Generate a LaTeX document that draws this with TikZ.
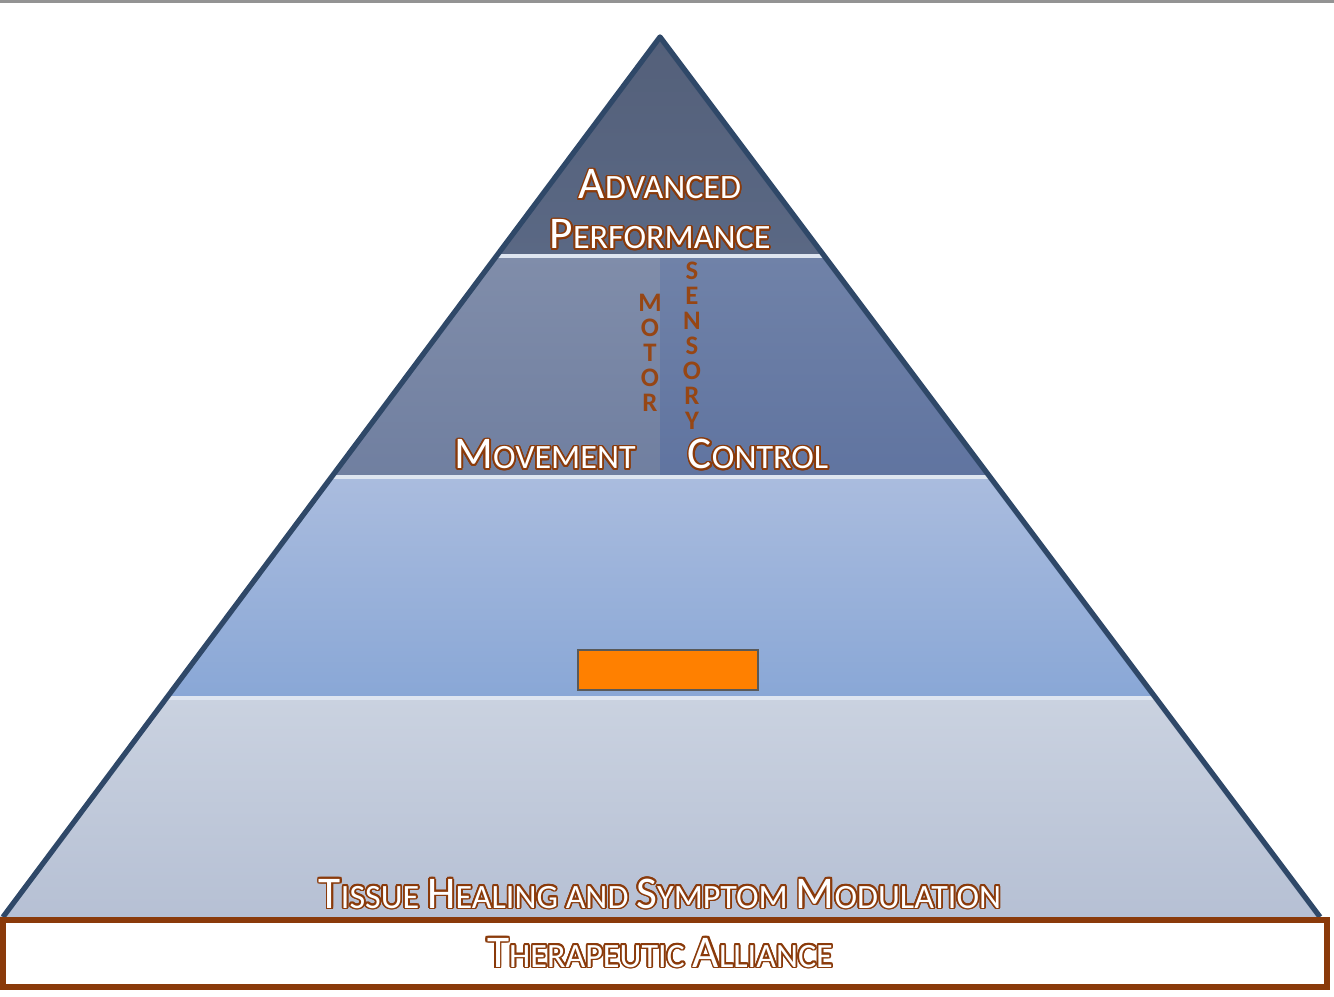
\documentclass[tikz,border=0pt]{standalone}
\usepackage{fontspec}
\setmainfont{Carlito}
\usepackage{xcolor}
\usepackage{tikz}
\usepackage{contour}
\usetikzlibrary{positioning,calc}
\definecolor{pyrline}{RGB}{47,72,104}
\definecolor{apexfill}{RGB}{84,96,122}
\definecolor{apexfillb}{RGB}{90,104,132}
\definecolor{motorfill}{RGB}{128,141,170}
\definecolor{motorfillb}{RGB}{112,127,160}
\definecolor{sensfill}{RGB}{112,130,168}
\definecolor{sensfillb}{RGB}{96,116,160}
\definecolor{strongfill}{RGB}{170,188,222}
\definecolor{strongfillb}{RGB}{137,167,214}
\definecolor{tissuefill}{RGB}{202,210,224}
\definecolor{tissuefillb}{RGB}{182,192,212}
\definecolor{bandsep}{RGB}{222,229,240}
\definecolor{rust}{RGB}{138,58,10}
\definecolor{letterrust}{RGB}{150,70,20}
\definecolor{hideorange}{RGB}{255,128,0}
\contourlength{0.5pt}
\newcommand{\tierword}[2]{{\fontsize{12.9}{16}\selectfont #1}{\fontsize{9.7}{16}\selectfont #2}}
\newcommand{\outl}[1]{\contour{rust}{#1}}
\begin{document}
\begin{tikzpicture}[x=1cm,y=1cm,
    tier/.style={text=white,inner sep=0pt,anchor=base},
    upletters/.style={text=letterrust,font=\fontsize{7.6}{7.1}\selectfont\bfseries,
      align=center,inner sep=0pt}]
    \useasboundingbox (0,0) rectangle (13.34,-9.97);
    % frame line on top
    \fill[gray!85] (0,0) rectangle (13.34,-0.03);
    % bands of the pyramid
    \begin{scope}
      \clip (6.60,-0.37) -- (13.20,-9.17) -- (0.00,-9.17) -- cycle;
      \shade[top color=apexfill,bottom color=apexfillb] (0,-0.37) rectangle (13.34,-2.56);
      \shade[top color=motorfill,bottom color=motorfillb] (0,-2.56) rectangle (6.60,-4.77);
      \shade[top color=sensfill,bottom color=sensfillb] (6.60,-2.56) rectangle (13.34,-4.77);
      \shade[top color=strongfill,bottom color=strongfillb] (0,-4.77) rectangle (13.34,-6.98);
      \shade[top color=tissuefill,bottom color=tissuefillb] (0,-6.98) rectangle (13.34,-9.17);
    \end{scope}
    % separators
    \draw[bandsep,line width=1pt] (4.96,-2.56) -- (8.24,-2.56);
    \draw[bandsep,line width=1pt] (3.30,-4.77) -- (9.90,-4.77);
    \draw[bandsep,line width=1pt] (1.64,-6.98) -- (11.56,-6.98);
    % outline
    \draw[pyrline,line width=1.5pt,line join=round]
      (0.03,-9.17) -- (6.60,-0.37) -- (13.20,-9.17);
    % base of the pyramid
    \draw[rust,line width=1.5pt,fill=white] (0.03,-9.20) rectangle (13.27,-9.87);
    % labels
    \node[tier] (adv) at (6.60,-1.99) {\outl{\tierword{A}{DVANCED}}};
    \node[tier] (perf) at (6.60,-2.49) {\outl{\tierword{P}{ERFORMANCE}}};
    \node[tier] (move) at (5.45,-4.69) {\outl{\tierword{M}{OVEMENT}}};
    \node[tier] (ctrl) at (7.58,-4.69) {\outl{\tierword{C}{ONTROL}}};
    \node[upletters] (motor) at (6.50,-3.53) {M\\O\\T\\O\\R};
    \node[upletters] (sensory) at (6.92,-3.46) {S\\E\\N\\S\\O\\R\\Y};
    \node[draw=gray!70!black,fill=hideorange,line width=0.8pt,minimum width=1.80cm,
          minimum height=0.40cm,inner sep=0pt] (hidden) at (6.68,-6.70) {};
    \node[tier] (tissue) at (6.60,-9.08) {\outl{\tierword{T}{ISSUE} \tierword{H}{EALING AND} \tierword{S}{YMPTOM} \tierword{M}{ODULATION}}};
    \node[tier] (alliance) at (6.60,-9.67) {\outl{\tierword{T}{HERAPEUTIC} \tierword{A}{LLIANCE}}};
  \end{tikzpicture}
\end{document}
